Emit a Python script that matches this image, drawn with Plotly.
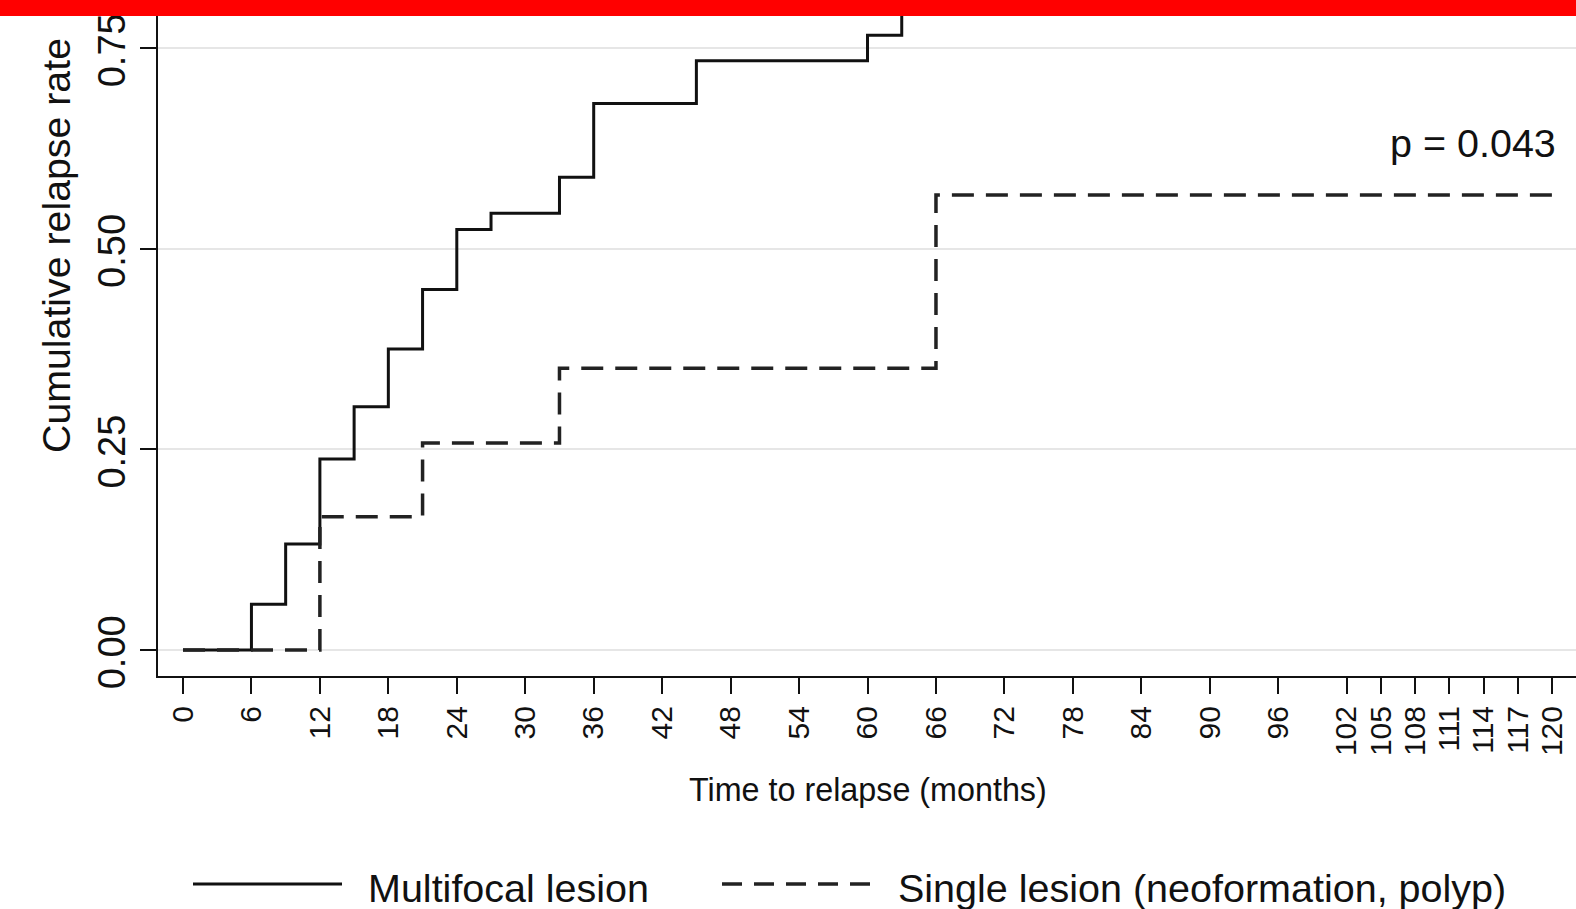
import plotly.graph_objects as go

# ---------------- data ----------------
x_tick_values = [0, 6, 12, 18, 24, 30, 36, 42, 48, 54, 60, 66, 72, 78, 84, 90, 96,
                 102, 105, 108, 111, 114, 117, 120]
y_tick_values = [0.0, 0.25, 0.50, 0.75]

multifocal_time = [0, 6, 9, 12, 15, 18, 21, 24, 27, 33, 36, 45, 60, 63]
multifocal_rate = [0.0, 0.057, 0.132, 0.238, 0.303, 0.375, 0.449, 0.524, 0.544,
                   0.589, 0.681, 0.734, 0.766, 0.85]

single_time = [0, 12, 21, 33, 66, 120]
single_rate = [0.0, 0.166, 0.258, 0.351, 0.567, 0.567]

series_names = ["Multifocal lesion", "Single lesion (neoformation, polyp)"]
x_title = "Time to relapse (months)"
y_title = "Cumulative relapse rate"
p_text = "p = 0.043"
p_pos = (120, 0.632)

# ---------------- layout constants ----------------
W, H = 1576, 909
L, B, T, R = 158, 233, 0, 0
PW, PH = W - L - R, H - T - B
FONT = "Liberation Sans, Arial, Helvetica, sans-serif"


def px_x(px):
    return (px - L) / PW


def px_y(py):
    return (H - B - py) / PH


fig = go.Figure()
fig.add_trace(go.Scatter(
    x=multifocal_time, y=multifocal_rate, mode="lines", name=series_names[0],
    line=dict(shape="hv", color="#111111", width=3), showlegend=False))
fig.add_trace(go.Scatter(
    x=single_time, y=single_rate, mode="lines", name=series_names[1],
    line=dict(shape="hv", color="#222222", width=3.5, dash="22px,12px"),
    showlegend=False))

fig.update_layout(
    width=W, height=H, autosize=False,
    margin=dict(l=L, r=R, t=T, b=B, pad=0),
    paper_bgcolor="white", plot_bgcolor="white",
    font=dict(family=FONT, color="#111111"),
    showlegend=False,
)
fig.update_xaxes(
    range=[-2.19, 122.1], tickmode="array", tickvals=x_tick_values,
    ticktext=[str(v) for v in x_tick_values], tickangle=-90,
    tickfont=dict(size=30, family=FONT, color="#111111"),
    ticks="outside", ticklen=16, tickwidth=2, tickcolor="#111111",
    showline=True, linecolor="#111111", linewidth=2, mirror=False,
    showgrid=False, zeroline=False,
)
fig.update_yaxes(
    range=[-0.0324, 0.8098], tickmode="array", tickvals=y_tick_values,
    ticktext=[f"{v:.2f}" for v in y_tick_values], tickangle=-90,
    tickfont=dict(size=38, family=FONT, color="#111111"),
    ticklabelshift=8,
    ticks="outside", ticklen=16, tickwidth=2, tickcolor="#111111",
    showline=True, linecolor="#111111", linewidth=2, mirror=False,
    showgrid=True, gridcolor="#e6e6e6", gridwidth=2, zeroline=False,
)

annotations = [
    dict(text=x_title, xref="paper", yref="paper", x=px_x(868), y=px_y(790),
         xanchor="center", yanchor="middle", showarrow=False,
         font=dict(size=32.3, family=FONT, color="#111111")),
    dict(text=y_title, xref="paper", yref="paper", x=px_x(56), y=px_y(246),
         xanchor="center", yanchor="middle", textangle=-90, showarrow=False,
         font=dict(size=39.3, family=FONT, color="#111111")),
    dict(text=p_text, xref="x", yref="y", x=p_pos[0], y=p_pos[1], xshift=6,
         xanchor="right", yanchor="middle", showarrow=False,
         font=dict(size=39.5, family=FONT, color="#111111")),
    dict(text=series_names[0], xref="paper", yref="paper", x=px_x(366), y=px_y(888),
         xanchor="left", yanchor="middle", showarrow=False,
         font=dict(size=39.5, family=FONT, color="#111111")),
    dict(text=series_names[1], xref="paper", yref="paper", x=px_x(896), y=px_y(888),
         xanchor="left", yanchor="middle", showarrow=False,
         font=dict(size=39.5, family=FONT, color="#111111")),
]
fig.update_layout(annotations=annotations)

shapes = [
    # legend keys
    dict(type="line", xref="paper", yref="paper", x0=px_x(193), x1=px_x(342),
         y0=px_y(884), y1=px_y(884), line=dict(color="#111111", width=3)),
    dict(type="line", xref="paper", yref="paper", x0=px_x(722), x1=px_x(873),
         y0=px_y(884), y1=px_y(884),
         line=dict(color="#222222", width=3.5, dash="20px,12px")),
    # red bar across the top of the image
    dict(type="rect", xref="paper", yref="paper", x0=px_x(0), x1=px_x(W),
         y0=px_y(16), y1=px_y(0), fillcolor="#ff0000", line=dict(width=0),
         layer="above"),
]
fig.update_layout(shapes=shapes)

fig.write_html("out.html", config={"displayModeBar": False},
               post_script="document.body.style.margin='0';")
